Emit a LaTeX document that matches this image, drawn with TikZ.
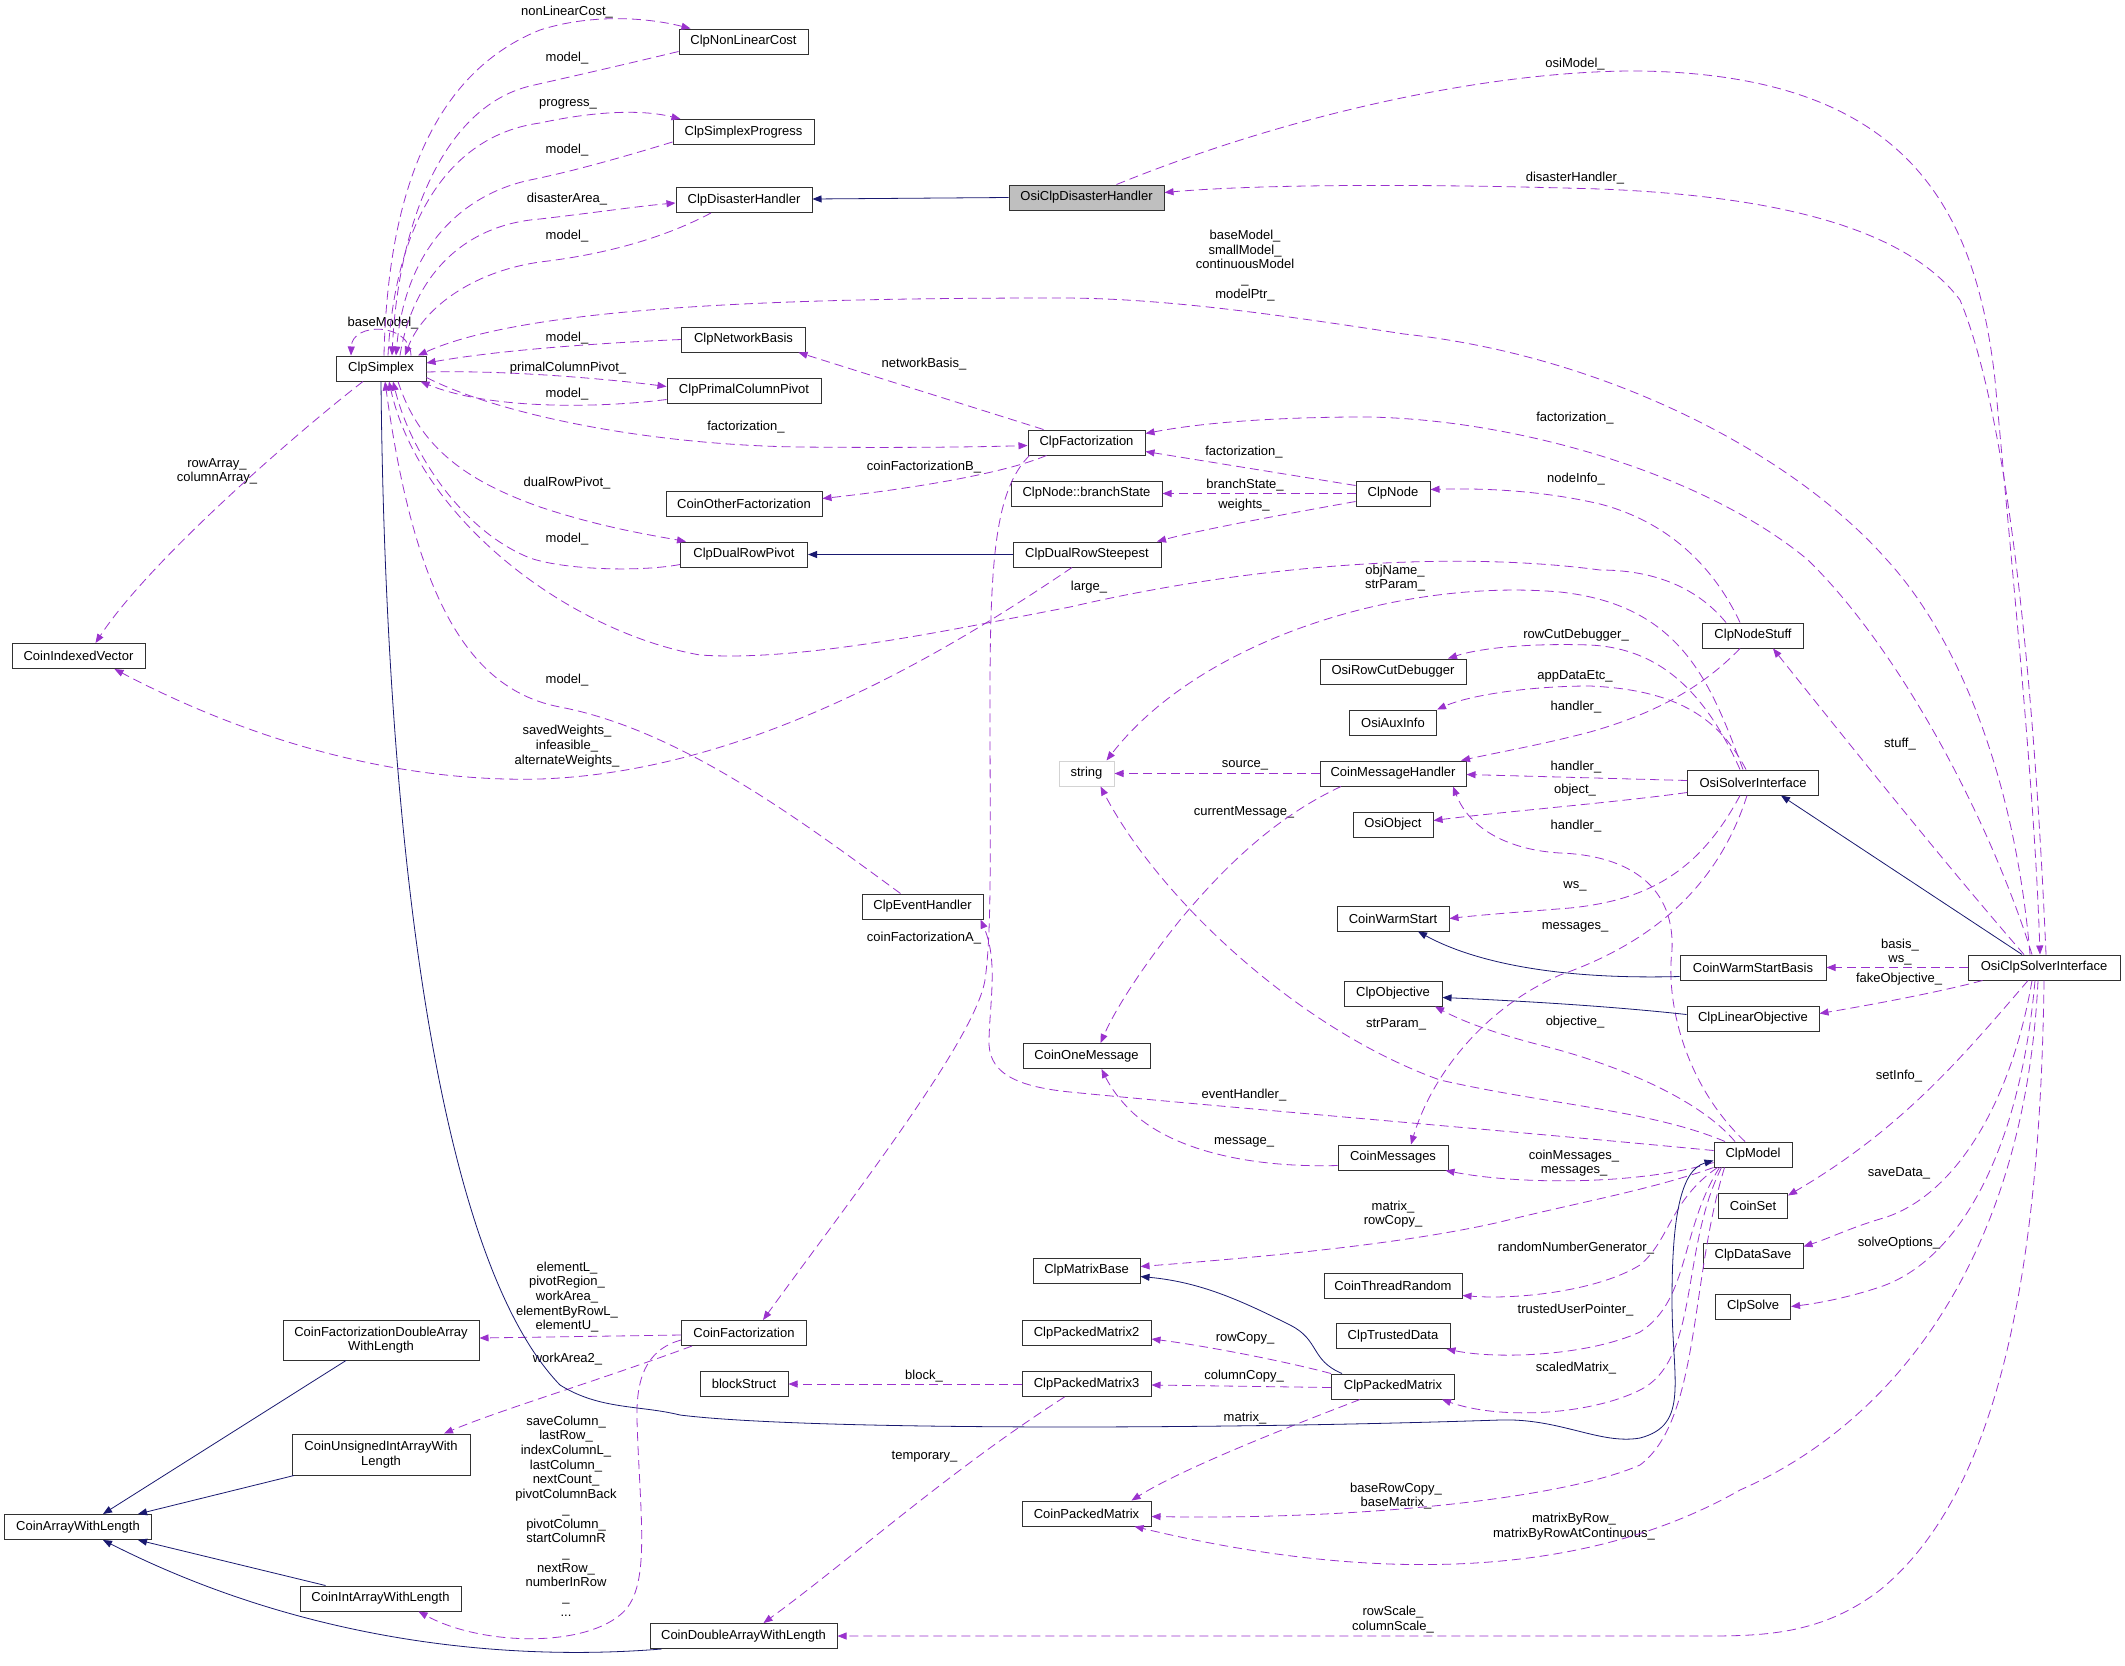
\documentclass[tikz,border=0pt]{standalone}
\usepackage{fontspec}
\setmainfont{Liberation Sans}
\usetikzlibrary{arrows.meta}
\definecolor{orchid}{RGB}{154,50,205}
\definecolor{navy}{RGB}{25,25,112}
\definecolor{frame}{RGB}{50,50,50}
\definecolor{grey75}{RGB}{191,191,191}
\definecolor{ghost}{RGB}{211,211,211}
\newcommand{\dgfont}{\fontsize{13}{14.7}\selectfont}
\tikzset{
  >={Triangle[length=9pt,width=7pt]},
  cls/.style={draw=frame,line width=1pt,fill=white,minimum width=#1,
    minimum height=25pt,inner sep=0pt,align=center,font=\dgfont},
  cls/.default=100pt,
  focus/.style={cls=#1,fill=grey75},
  ext/.style={cls=#1,draw=ghost},
  use/.style={->,draw=orchid,line width=0.8pt,dash pattern=on 9pt off 5pt},
  inh/.style={->,draw=navy,line width=0.8pt},
  tag/.style={font=\dgfont,align=center,inner sep=0pt},
}

\begin{document}
\begin{tikzpicture}[x=1pt,y=-1pt]
  \fill[white] (0,0) rectangle (2125,1665);
  \useasboundingbox (0,0) rectangle (2125,1665);
  % classes
  \node[cls=129pt] (nlcost) at (743.5,41.5) {ClpNonLinearCost};
  \node[cls=141pt] (progress) at (743.5,132) {ClpSimplexProgress};
  \node[cls=136pt] (disaster) at (744,200) {ClpDisasterHandler};
  \node[focus=155pt] (osidisaster) at (1086.5,197.5) {OsiClpDisasterHandler};
  \node[cls=90pt] (simplex) at (381,368.5) {ClpSimplex};
  \node[cls=124pt] (netbasis) at (743.5,339.5) {ClpNetworkBasis};
  \node[cls=154pt] (primal) at (744,390.5) {ClpPrimalColumnPivot};
  \node[cls=117pt] (clpfact) at (1086.5,442.5) {ClpFactorization};
  \node[cls=156pt] (otherfact) at (744,503.5) {CoinOtherFactorization};
  \node[cls=151pt] (branch) at (1086.5,493.5) {ClpNode::branchState};
  \node[cls=74pt] (clpnode) at (1393,493.5) {ClpNode};
  \node[cls=127pt] (dualpivot) at (744,554.5) {ClpDualRowPivot};
  \node[cls=148pt] (steepest) at (1087,554.5) {ClpDualRowSteepest};
  \node[cls=133pt] (indexed) at (78.5,656) {CoinIndexedVector};
  \node[cls=101pt] (nodestuff) at (1753,635.5) {ClpNodeStuff};
  \node[cls=146pt] (rowcut) at (1393,671.5) {OsiRowCutDebugger};
  \node[cls=87pt] (auxinfo) at (1393,722.5) {OsiAuxInfo};
  \node[ext=55pt] (string) at (1086.5,773.5) {string};
  \node[cls=146pt] (msghandler) at (1393,773.5) {CoinMessageHandler};
  \node[cls=131pt] (osisolver) at (1753,782.5) {OsiSolverInterface};
  \node[cls=80pt] (osiobject) at (1393,824.5) {OsiObject};
  \node[cls=121pt] (eventh) at (922.5,906.5) {ClpEventHandler};
  \node[cls=112pt] (warmstart) at (1393,918.5) {CoinWarmStart};
  \node[cls=146pt] (warmbasis) at (1753,967.5) {CoinWarmStartBasis};
  \node[cls=152pt] (osiclp) at (2044,967.5) {OsiClpSolverInterface};
  \node[cls=98pt] (objective) at (1393,993.5) {ClpObjective};
  \node[cls=132pt] (linobj) at (1753,1018.5) {ClpLinearObjective};
  \node[cls=127pt] (onemsg) at (1086.5,1056) {CoinOneMessage};
  \node[cls=110pt] (messages) at (1393,1157.5) {CoinMessages};
  \node[cls=78pt] (clpmodel) at (1753,1154.5) {ClpModel};
  \node[cls=69pt] (coinset) at (1753,1205.5) {CoinSet};
  \node[cls=100pt] (datasave) at (1753,1255.5) {ClpDataSave};
  \node[cls=107pt] (matbase) at (1086.5,1270.5) {ClpMatrixBase};
  \node[cls=138pt] (thrrandom) at (1393,1285.5) {CoinThreadRandom};
  \node[cls=75pt] (clpsolve) at (1753,1306.5) {ClpSolve};
  \node[cls=196pt,minimum height=40pt] (cfdouble) at (381,1340) {CoinFactorizationDoubleArray\\WithLength};
  \node[cls=125pt] (coinfact) at (744,1333) {CoinFactorization};
  \node[cls=129pt] (packed2) at (1086.5,1333) {ClpPackedMatrix2};
  \node[cls=114pt] (trusted) at (1393,1336) {ClpTrustedData};
  \node[cls=88pt] (blockst) at (744,1384) {blockStruct};
  \node[cls=129pt] (packed3) at (1086.5,1384) {ClpPackedMatrix3};
  \node[cls=123pt] (packed) at (1393,1386.5) {ClpPackedMatrix};
  \node[cls=178pt,minimum height=41pt] (cuint) at (381,1454.5) {CoinUnsignedIntArrayWith\\Length};
  \node[cls=129pt] (coinpacked) at (1086.5,1513.5) {CoinPackedMatrix};
  \node[cls=147pt] (arraylen) at (78,1527) {CoinArrayWithLength};
  \node[cls=161pt] (intarray) at (380.5,1598.5) {CoinIntArrayWithLength};
  \node[cls=187pt] (doublearray) at (743.5,1636) {CoinDoubleArrayWithLength};

  % member labels
  \foreach \y [count=\i] in {58,150,236,338,394,539,680}
    \node[tag] (model\i) at (567,\y) {model\_};
  \foreach \n/\x/\y/\t in {nlc/567/12/nonLinearCost\_, prog/568/104/progress\_,
      darea/567/199/disasterArea\_, bmod/383/323/baseModel\_, pcp/568/368/primalColumnPivot\_,
      fact1/746/427/factorization\_, nbas/924/364/networkBasis\_, cfb/924/467/coinFactorizationB\_,
      drp/567/483/dualRowPivot\_, osim/1575/64/osiModel\_, dhand/1575/178/disasterHandler\_,
      fact2/1575/418/factorization\_, fact3/1244/452/factorization\_, bst/1245/485/branchState\_,
      wts/1244/505/weights\_, ninfo/1576/479/nodeInfo\_, large/1089/587/large\_,
      rcd/1576/635/rowCutDebugger\_, ade/1575/676/appDataEtc\_, hand1/1576/707.5/handler\_,
      hand2/1576/767/handler\_, obj/1575/790/object\_, hand3/1576/826/handler\_,
      src/1245/765/source\_, curm/1244/812/currentMessage\_, cfa/924/938/coinFactorizationA\_,
      stuff/1900/744/stuff\_, ws/1575/886/ws\_, msgs/1575/927.5/messages\_,
      fobj/1899/979/fakeObjective\_, strp/1396/1024/strParam\_, objv/1575/1022.5/objective\_,
      evh/1244/1095/eventHandler\_, msg/1244/1142.5/message\_, sinfo/1899/1076/setInfo\_,
      rng/1576/1248.5/randomNumberGenerator\_, sdata/1899/1173/saveData\_,
      tup/1575.5/1310/trustedUserPointer\_, sopt/1899/1243.4/solveOptions\_,
      rcopy/1245/1338.6/rowCopy\_, ccopy/1244/1375.7/columnCopy\_, smat/1576/1368.5/scaledMatrix\_,
      blk/924/1375.7/block\_, mtx/1245/1418/matrix\_, tmp/924.6/1457/temporary\_,
      wa2/567.5/1359.5/workArea2\_}
    \node[tag] (l-\n) at (\x,\y) {\t};
  \node[tag] (rowarr) at (217,471.5) {rowArray\_\\columnArray\_};
  \node[tag] (basem) at (1245,265.5) {baseModel\_\\smallModel\_\\continuousModel\\\_\\modelPtr\_};
  \node[tag] (objname) at (1395,578) {objName\_\\strParam\_};
  \node[tag] (saved) at (567,746) {savedWeights\_\\infeasible\_\\alternateWeights\_};
  \node[tag] (basis) at (1900,952) {basis\_\\ws\_};
  \node[tag] (coinmsgs) at (1574,1163) {coinMessages\_\\messages\_};
  \node[tag] (matrc) at (1393,1214) {matrix\_\\rowCopy\_};
  \node[tag] (baserow) at (1396,1496) {baseRowCopy\_\\baseMatrix\_};
  \node[tag] (mbyrow) at (1574,1526.5) {matrixByRow\_\\matrixByRowAtContinuous\_};
  \node[tag] (rscale) at (1393,1619.5) {rowScale\_\\columnScale\_};
  \node[tag] (elemL) at (567,1297) {elementL\_\\pivotRegion\_\\workArea\_\\elementByRowL\_\\elementU\_};
  \node[tag] (savecol) at (566,1516) {saveColumn\_\\lastRow\_\\indexColumnL\_\\lastColumn\_\\nextCount\_\\pivotColumnBack\\\_\\pivotColumn\_\\startColumnR\\\_\\nextRow\_\\numberInRow\\\_\\...};

  % usage
  \draw[use] ([xshift=3pt]simplex.north) .. controls (388,180) and (440,70) .. (540,30) .. controls (590,14) and (645,17) .. ([xshift=-53pt]nlcost.north);
  \draw[use] ([yshift=-10pt]nlcost.west) .. controls (610,68) and (565,78) .. (530,86) .. controls (440,108) and (398,230) .. ([xshift=11pt]simplex.north);
  \draw[use] ([xshift=7pt]simplex.north) .. controls (395,220) and (450,135) .. (540,123) .. controls (600,110) and (645,110) .. ([xshift=-63pt]progress.north);
  \draw[use] ([yshift=-10pt]progress.west) .. controls (620,158) and (570,172) .. (530,180) .. controls (460,195) and (405,250) .. ([xshift=15pt]simplex.north);
  \draw[use] ([xshift=19pt]simplex.north) .. controls (412,280) and (460,225) .. (540,219) .. controls (600,212) and (640,206) .. ([yshift=-3pt]disaster.west);
  \draw[use] ([xshift=-33pt]disaster.south) .. controls (660,240) and (600,255) .. (540,262) .. controls (470,272) and (422,310) .. ([xshift=24pt]simplex.north);
  \draw[use] ([xshift=30pt]simplex.north) .. controls (410,322) and (352,322) .. ([xshift=-30pt]simplex.north);
  \draw[use] ([xshift=-14pt]osiclp.north) .. controls (2015,780) and (1960,640) .. (1887,560) .. controls (1790,450) and (1600,355) .. (1404,334) .. controls (1250,310) and (1150,298) .. (1060,298) .. controls (800,298) and (530,305) .. ([xshift=37pt]simplex.north);
  \draw[use] (netbasis.west) .. controls (600,343) and (500,350) .. ([yshift=5.5pt]simplex.east);
  \draw[use] ([yshift=-3.5pt]simplex.east) .. controls (500,370) and (600,378) .. ([yshift=4pt]primal.west);
  \draw[use] ([yshift=-9pt]primal.west) .. controls (600,408) and (490,410) .. ([xshift=-6pt]simplex.south east);
  \draw[use] ([yshift=-9pt]simplex.east) .. controls (500,415) and (650,445) .. (800,447) .. controls (900,448) and (980,447) .. ([yshift=-3pt]clpfact.west);
  \draw[use] ([xshift=-43pt]clpfact.north) -- ([xshift=55pt]netbasis.south);
  \draw[use] ([xshift=-40pt]clpfact.south) .. controls (1000,475) and (900,490) .. ([yshift=5pt]otherfact.east);
  \draw[use] ([xshift=17pt]simplex.south) .. controls (420,450) and (470,482) .. (540,507) .. controls (600,527) and (650,535) .. ([xshift=-58pt]dualpivot.north);
  \draw[use] ([yshift=-10pt]dualpivot.west) .. controls (640,572) and (565,570) .. (530,558) .. controls (460,530) and (410,450) .. ([xshift=12pt]simplex.south);
  \draw[use] ([xshift=-27pt]nodestuff.north) .. controls (1695,585) and (1650,570) .. (1600,570) .. controls (1450,550) and (1250,565) .. (1070,607) .. controls (950,630) and (800,662) .. (700,655) .. controls (570,632) and (420,520) .. ([xshift=8pt]simplex.south);
  \draw[use] ([xshift=-22pt]eventh.north) .. controls (800,820) and (680,730) .. (560,707) .. controls (470,690) and (415,600) .. ([xshift=4pt]simplex.south);
  \draw[use] ([xshift=-18pt]simplex.south) .. controls (300,430) and (150,560) .. ([xshift=17pt]indexed.north);
  \draw[use] ([xshift=-15pt]steepest.south) .. controls (950,650) and (750,772) .. (540,779) .. controls (380,783) and (230,730) .. ([xshift=36pt]indexed.south);
  \draw[use] ([yshift=-8pt]clpnode.west) .. controls (1280,515) and (1200,530) .. ([xshift=70pt]steepest.north);
  \draw[use] (clpnode.west) -- (branch.east);
  \draw[use] ([yshift=8pt]clpnode.west) -- ([yshift=-9pt]clpfact.east);
  \draw[use] ([xshift=-13pt]nodestuff.north) .. controls (1720,580) and (1680,525) .. (1600,504) .. controls (1540,490) and (1480,488) .. ([yshift=4pt]clpnode.east);
  \draw[use] ([xshift=-12pt]osiclp.north) .. controls (1990,820) and (1900,650) .. (1808,560) .. controls (1700,470) and (1500,415) .. (1350,417) .. controls (1250,418) and (1190,425) .. ([yshift=9pt]clpfact.east);
  \draw[use] ([xshift=30pt]osidisaster.north) .. controls (1300,110) and (1500,70) .. (1640,71) .. controls (1900,75) and (1975,200) .. (1995,380) .. controls (2015,600) and (2035,800) .. ([xshift=-4pt]osiclp.north);
  \draw[use] ([xshift=2pt]osiclp.north) .. controls (2035,700) and (2010,420) .. (1960,300) .. controls (1900,220) and (1750,195) .. (1600,189) .. controls (1400,183) and (1250,185) .. ([yshift=5pt]osidisaster.east);
  \draw[use] ([xshift=-20pt]osiclp.north) .. controls (1950,870) and (1830,720) .. ([xshift=20pt]nodestuff.south);
  \draw[use] ([xshift=-13pt]nodestuff.south) .. controls (1700,690) and (1650,715) .. (1590,732) .. controls (1540,745) and (1500,752) .. ([xshift=68pt]msghandler.north);
  \draw[use] ([xshift=-10pt]osisolver.north) .. controls (1710,680) and (1680,605) .. (1560,592) .. controls (1400,578) and (1200,640) .. ([xshift=20pt]string.north);
  \draw[use] ([xshift=-13pt]osisolver.north) .. controls (1700,680) and (1650,648) .. (1590,645) .. controls (1530,643) and (1480,648) .. ([xshift=55pt]rowcut.north);
  \draw[use] ([xshift=-7pt]osisolver.north) .. controls (1720,720) and (1680,690) .. (1590,686) .. controls (1530,686) and (1470,695) .. (auxinfo.north east);
  \draw[use] ([yshift=2pt]osisolver.west) -- ([yshift=-1pt]msghandler.east);
  \draw[use] ([yshift=-10pt]osisolver.west) .. controls (1620,802) and (1500,812) .. ([yshift=4pt]osiobject.east);
  \draw[use] ([xshift=-13pt]osisolver.south) .. controls (1700,870) and (1650,900) .. (1570,908) .. controls (1520,912) and (1480,915) .. (warmstart.east);
  \draw[use] ([xshift=-6pt]osisolver.south) .. controls (1720,880) and (1660,940) .. (1560,975) .. controls (1480,1010) and (1430,1080) .. ([xshift=18pt]messages.north);
  \draw[use] ([xshift=-8pt]clpmodel.north) .. controls (1690,1090) and (1665,1010) .. (1672,950) .. controls (1675,880) and (1620,855) .. (1560,853) .. controls (1510,850) and (1470,830) .. ([xshift=60pt]msghandler.south);
  \draw[use] ([xshift=-28pt]clpmodel.north) .. controls (1650,1110) and (1550,1105) .. (1440,1080) .. controls (1300,1030) and (1160,900) .. ([xshift=14pt]string.south);
  \draw[use] ([xshift=-18pt]clpmodel.north) .. controls (1700,1100) and (1620,1065) .. (1540,1045) .. controls (1490,1032) and (1460,1020) .. ([xshift=42pt]objective.south);
  \draw[use] ([yshift=4pt]clpmodel.west) .. controls (1500,1130) and (1200,1105) .. (1070,1092) .. controls (1010,1086) and (988,1070) .. (989,1040) .. controls (990,1000) and (998,960) .. ([xshift=58pt]eventh.south);
  \draw[use] ([yshift=-8pt]clpmodel.west) .. controls (1640,1185) and (1520,1185) .. ([xshift=-3pt]messages.south east);
  \draw[use] ([yshift=-8pt]messages.west) .. controls (1250,1168) and (1170,1150) .. (1130,1110) .. controls (1115,1095) and (1108,1082) .. ([xshift=15pt]onemsg.south);
  \draw[use] ([xshift=-52pt]msghandler.south) .. controls (1280,815) and (1230,860) .. (1180,920) .. controls (1140,970) and (1115,1010) .. ([xshift=14pt]onemsg.north);
  \draw[use] (msghandler.west) -- (string.east);
  \draw[use] (clpmodel.south west) .. controls (1650,1190) and (1580,1202) .. (1500,1222) .. controls (1400,1245) and (1250,1258) .. ([yshift=4pt]matbase.east);
  \draw[use] ([xshift=4pt]clpmodel.south west) .. controls (1670,1200) and (1670,1240) .. (1640,1265) .. controls (1600,1290) and (1520,1300) .. ([yshift=-10pt]thrrandom.east);
  \draw[use] ([xshift=6pt]clpmodel.south west) .. controls (1680,1230) and (1690,1300) .. (1640,1332) .. controls (1590,1355) and (1500,1360) .. ([xshift=-4pt]trusted.south east);
  \draw[use] ([xshift=8pt]clpmodel.south west) .. controls (1680,1250) and (1700,1360) .. (1640,1390) .. controls (1590,1415) and (1500,1420) .. ([xshift=-13pt]packed.south east);
  \draw[use] ([xshift=11pt]clpmodel.south west) .. controls (1690,1280) and (1700,1420) .. (1640,1465) .. controls (1560,1500) and (1350,1520) .. ([yshift=-3pt]coinpacked.east);
  \draw[use] ([xshift=-6pt]osiclp.south) .. controls (2025,1250) and (1900,1420) .. (1740,1490) .. controls (1600,1570) and (1400,1590) .. ([xshift=-17pt]coinpacked.south east);
  \draw[use] (osiclp.south) .. controls (2040,1300) and (1990,1500) .. (1880,1590) .. controls (1820,1636) and (1760,1636) .. (1700,1636) -- (doublearray.east);
  \draw[use] ([xshift=-16pt]osiclp.south) .. controls (1960,1060) and (1900,1130) .. ([yshift=10pt]coinset.east);
  \draw[use] ([xshift=-12pt]osiclp.south) .. controls (2010,1110) and (1950,1200) .. (1880,1219) .. controls (1850,1228) and (1830,1238) .. ([yshift=9pt]datasave.east);
  \draw[use] ([xshift=-9pt]osiclp.south) .. controls (2020,1150) and (1960,1260) .. (1880,1287) .. controls (1850,1297) and (1820,1303) .. (clpsolve.east);
  \draw[use] (osiclp.west) -- (warmbasis.east);
  \draw[use] ([xshift=15pt]osiclp.south west) .. controls (1940,992) and (1870,1005) .. ([yshift=5pt]linobj.east);
  \draw[use] (packed3.west) -- (blockst.east);
  \draw[use] ([xshift=-22pt]packed3.south) .. controls (950,1470) and (850,1560) .. ([xshift=20pt]doublearray.north);
  \draw[use] (packed.north west) .. controls (1280,1360) and (1200,1345) .. ([yshift=-6pt]packed2.east);
  \draw[use] ([yshift=-1pt]packed.west) -- ([yshift=-1pt]packed3.east);
  \draw[use] ([xshift=-33pt]packed.south) .. controls (1280,1430) and (1180,1470) .. ([xshift=45pt]coinpacked.north);
  \draw[use] ([yshift=-2pt]coinfact.west) -- ([yshift=2pt]cfdouble.east);
  \draw[use] ([xshift=-52pt]coinfact.south) .. controls (600,1380) and (500,1410) .. ([xshift=63pt]cuint.north);
  \draw[use] ([yshift=-7pt]coinfact.west) .. controls (645,1350) and (636,1380) .. (637,1420) .. controls (640,1520) and (652,1590) .. (620,1615) .. controls (580,1648) and (480,1645) .. ([xshift=38pt]intarray.south);
  \draw[use] ([xshift=-57pt]clpfact.south) .. controls (995,490) and (990,560) .. (990,700) .. controls (990,850) and (992,930) .. (985,980) .. controls (975,1040) and (850,1200) .. ([xshift=19pt]coinfact.north);

  % inheritance
  \draw[inh] (osidisaster.west) -- ([yshift=1pt]disaster.east);
  \draw[inh] (steepest.west) -- (dualpivot.east);
  \draw[inh] ([xshift=-22pt]osiclp.north) -- ([xshift=28pt]osisolver.south);
  \draw[inh] ([yshift=-9pt]warmbasis.west) .. controls (1550,980) and (1470,960) .. ([xshift=25pt]warmstart.south);
  \draw[inh] ([yshift=4pt]linobj.west) .. controls (1600,1005) and (1500,1000) .. ([yshift=-4pt]objective.east);
  \draw[inh] ([xshift=-51pt]packed.north) .. controls (1310,1360) and (1320,1340) .. (1290,1325) .. controls (1240,1300) and (1200,1282) .. ([yshift=-6pt]matbase.east);
  \draw[inh] (simplex.south) .. controls (385,800) and (430,1250) .. (560,1385) .. controls (600,1410) and (640,1405) .. (680,1415) .. controls (800,1430) and (1200,1430) .. (1500,1420) .. controls (1560,1418) and (1600,1445) .. (1640,1438) .. controls (1690,1425) and (1672,1380) .. (1672,1300) .. controls (1672,1220) and (1680,1170) .. ([yshift=-6pt]clpmodel.west);
  \draw[inh] ([xshift=-35pt]cfdouble.south) -- ([xshift=25pt]arraylen.north);
  \draw[inh] ([xshift=-87pt]cuint.south) -- ([xshift=60pt]arraylen.north);
  \draw[inh] ([xshift=-55pt]intarray.north) -- ([xshift=60pt]arraylen.south);
  \draw[inh] ([xshift=-82pt]doublearray.south) .. controls (500,1662) and (300,1640) .. ([xshift=25pt]arraylen.south);
\end{tikzpicture}
\end{document}
